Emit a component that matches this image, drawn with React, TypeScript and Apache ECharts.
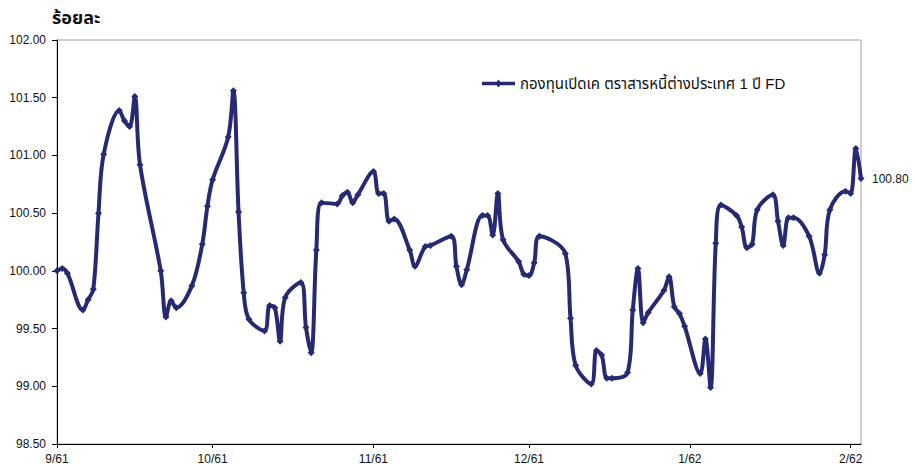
import React, { useEffect, useRef } from "react";
import * as echarts from "echarts";

const seriesName = "กองทุนเปิดเค ตราสารหนี้ต่างประเทศ 1 ปี FD";
const unitTitle = "ร้อยละ";

const dates = [
  "2018-09-01", "2018-09-02", "2018-09-03", "2018-09-06", "2018-09-07", "2018-09-08", "2018-09-09", "2018-09-10",
  "2018-09-13", "2018-09-14", "2018-09-15", "2018-09-16", "2018-09-17", "2018-09-21", "2018-09-22", "2018-09-23",
  "2018-09-24", "2018-09-27", "2018-09-29", "2018-09-30", "2018-10-01", "2018-10-04", "2018-10-05", "2018-10-06",
  "2018-10-07", "2018-10-08", "2018-10-11", "2018-10-12", "2018-10-13", "2018-10-14", "2018-10-15", "2018-10-18",
  "2018-10-19", "2018-10-20", "2018-10-21", "2018-10-22", "2018-10-25", "2018-10-26", "2018-10-27", "2018-10-28",
  "2018-10-29", "2018-11-01", "2018-11-02", "2018-11-03", "2018-11-04", "2018-11-05", "2018-11-08", "2018-11-09",
  "2018-11-11", "2018-11-12", "2018-11-16", "2018-11-17", "2018-11-18", "2018-11-19", "2018-11-22", "2018-11-23",
  "2018-11-24", "2018-11-25", "2018-11-26", "2018-11-29", "2018-11-30", "2018-12-01", "2018-12-02", "2018-12-03",
  "2018-12-08", "2018-12-09", "2018-12-10", "2018-12-13", "2018-12-14", "2018-12-15", "2018-12-16", "2018-12-17",
  "2018-12-20", "2018-12-21", "2018-12-22", "2018-12-23", "2018-12-24", "2018-12-27", "2018-12-28", "2018-12-29",
  "2018-12-30", "2018-12-31", "2019-01-03", "2019-01-04", "2019-01-05", "2019-01-06", "2019-01-07", "2019-01-10",
  "2019-01-11", "2019-01-12", "2019-01-13", "2019-01-14", "2019-01-17", "2019-01-18", "2019-01-19", "2019-01-20",
  "2019-01-21", "2019-01-24", "2019-01-26", "2019-01-27", "2019-01-28", "2019-01-31", "2019-02-01", "2019-02-02",
  "2019-02-03",
];

const values = [
  100.0, 100.02, 99.98, 99.66, 99.75, 99.84, 100.5, 101.01,
  101.39, 101.3, 101.25, 101.51, 100.92, 100.0, 99.6, 99.74,
  99.68, 99.87, 100.23, 100.56, 100.79, 101.16, 101.56, 100.51,
  99.81, 99.58, 99.48, 99.7, 99.68, 99.39, 99.77, 99.9,
  99.51, 99.29, 100.18, 100.59, 100.58, 100.65, 100.68, 100.59,
  100.66, 100.86, 100.67, 100.67, 100.43, 100.45, 100.18, 100.04,
  100.21, 100.22, 100.3, 100.04, 99.88, 100.01, 100.48, 100.48,
  100.31, 100.67, 100.27, 100.08, 99.97, 99.96, 100.07, 100.3,
  100.15, 99.59, 99.18, 99.02, 99.31, 99.27, 99.07, 99.07,
  99.12, 99.66, 100.02, 99.55, 99.64, 99.83, 99.95, 99.69,
  99.63, 99.52, 99.11, 99.41, 98.99, 100.24, 100.57, 100.48,
  100.38, 100.2, 100.23, 100.53, 100.66, 100.43, 100.22, 100.46,
  100.46, 100.3, 99.98, 100.14, 100.53, 100.69, 100.67, 101.06,
  100.8,
];

const xMin = "2018-09-01";
const xMax = "2019-02-03";
const yMin = 98.5;
const yMax = 102;
const yStep = 0.5;

const FONT = "'Liberation Sans', Arial, 'Noto Sans Thai', Tahoma, sans-serif";
const LINE = "#262a72";

export default function App() {
  const ref = useRef<HTMLDivElement>(null);
  useEffect(() => {
    if (!ref.current) return;
    const chart = echarts.init(ref.current, undefined, { renderer: "svg" });
    const data = dates.map((d, i) => [d, values[i]]);
    chart.setOption({
      animation: false,
      backgroundColor: "#ffffff",
      textStyle: { fontFamily: FONT },
      title: {
        text: unitTitle,
        left: 47,
        top: 4,
        textStyle: { fontSize: 18, fontWeight: "bold", color: "#111", fontFamily: FONT },
      },
      legend: {
        left: 477,
        top: 71,
        itemWidth: 33,
        itemHeight: 8,
        itemGap: 9,
        textStyle: { fontSize: 15, color: "#111", fontFamily: FONT },
        data: [
          {
            name: seriesName,
            icon: "path://M0,2.3 L33,2.3 L33,5.7 L0,5.7 Z M16.5,0 L19.5,4 L16.5,8 L13.5,4 Z",
          },
        ],
      },
      grid: {
        left: 57,
        top: 40,
        right: 56,
        bottom: 23,
        show: true,
        borderColor: "#a0a0a0",
        borderWidth: 1,
        containLabel: false,
      },
      xAxis: {
        type: "time",
        min: xMin,
        max: xMax,
        minInterval: 28 * 86400000,
        splitNumber: 6,
        axisLine: { show: true, lineStyle: { color: "#000", width: 1 } },
        axisTick: { show: true, length: 4, lineStyle: { color: "#000" } },
        splitLine: { show: false },
        axisLabel: {
          color: "#111",
          fontSize: 12,
          margin: 9,
          showMinLabel: true,
          formatter: (val: number) => {
            const d = new Date(val);
            return `${d.getMonth() + 1}/${(d.getFullYear() + 543) % 100}`;
          },
        },
      },
      yAxis: {
        type: "value",
        min: yMin,
        max: yMax,
        interval: yStep,
        axisLine: { show: true, lineStyle: { color: "#000", width: 1 } },
        axisTick: { show: true, length: 5, lineStyle: { color: "#000" } },
        splitLine: { show: false },
        axisLabel: {
          color: "#111",
          fontSize: 12,
          margin: 11,
          formatter: (v: number) => v.toFixed(2),
        },
      },
      series: [
        {
          name: seriesName,
          type: "line",
          data,
          smooth: 0.35,
          symbol: "diamond",
          symbolSize: 7,
          showAllSymbol: true,
          lineStyle: { color: LINE, width: 4 },
          itemStyle: { color: LINE },
          endLabel: {
            show: true,
            distance: 11,
            color: "#111",
            fontSize: 12,
            fontFamily: FONT,
            formatter: (p: any) => Number(p.value[1]).toFixed(2),
          },
        },
      ],
    });
    return () => chart.dispose();
  }, []);
  return (
    <div
      ref={ref}
      style={{ position: "fixed", left: 0, top: 0, width: 917, height: 467 }}
    />
  );
}
